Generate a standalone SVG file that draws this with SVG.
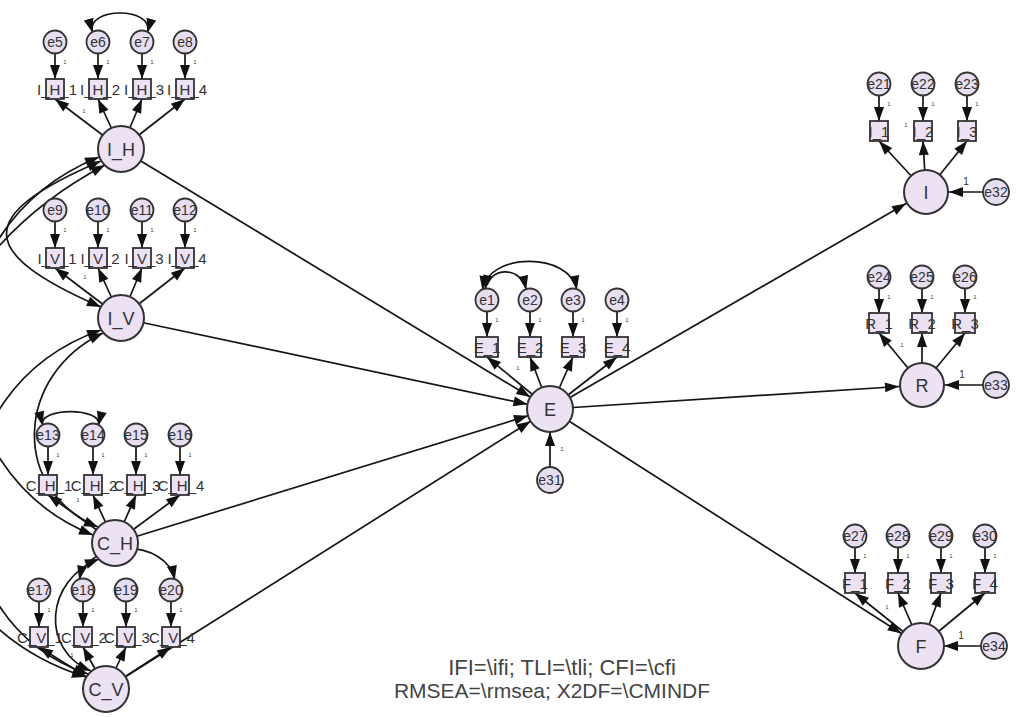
<svg xmlns="http://www.w3.org/2000/svg" width="1017" height="717" viewBox="0 0 1017 717">
<style>
.lat{fill:#ECE2F4;stroke:#333;stroke-width:2}
.err{fill:#E8DEF2;stroke:#333;stroke-width:1.8}
.box{fill:#ECE2F4;stroke:#333;stroke-width:1.8}
.c{fill:none;stroke:#151515;stroke-width:1.7}
.a{marker-end:url(#ap)}
.al{marker-end:url(#al)}
.d{marker-start:url(#ap);marker-end:url(#ap)}
text{font-family:"Liberation Sans",Arial,sans-serif;fill:#333;text-anchor:middle}
.tl{font-size:18px}
.te{font-size:14px}
.tb{font-size:15px}
.t1{font-size:6px;fill:#444}
.tw{font-size:10px}
.tf{font-size:21px;fill:#444}
</style>
<defs>
<marker id="ap" markerUnits="userSpaceOnUse" markerWidth="15" markerHeight="10" refX="14" refY="5" orient="auto-start-reverse" overflow="visible"><path d="M0,0 L14,5 L0,10 z" fill="#111"/></marker>
<marker id="al" markerUnits="userSpaceOnUse" markerWidth="15" markerHeight="10" refX="37" refY="5" orient="auto" overflow="visible"><path d="M0,0 L14,5 L0,10 z" fill="#111"/></marker>
</defs>
<rect width="1017" height="717" fill="#fff"/>
<g id="connectors">
<path class="c al" d="M121,149 L550,409"/>
<path class="c al" d="M121,318 L550,409"/>
<path class="c al" d="M115,543 L550,409"/>
<path class="c al" d="M106,689 L550,409"/>
<path class="c al" d="M550,409 L926,192"/>
<path class="c al" d="M550,409 L922,385"/>
<path class="c al" d="M550,409 L921,646"/>
<path class="c al" d="M550,480 L550,409"/>
<path class="c al" d="M996,192 L926,192"/>
<path class="c al" d="M996,385 L922,385"/>
<path class="c al" d="M994,646 L921,646"/>
<path class="c a" d="M55,42 V79"/>
<path class="c a" d="M98,42 V79"/>
<path class="c a" d="M142,42 V79"/>
<path class="c a" d="M185,42 V79"/>
<path class="c a" d="M55,210 V248"/>
<path class="c a" d="M98,210 V248"/>
<path class="c a" d="M142,210 V248"/>
<path class="c a" d="M185,210 V248"/>
<path class="c a" d="M48,435 V475"/>
<path class="c a" d="M93,435 V475"/>
<path class="c a" d="M136,435 V475"/>
<path class="c a" d="M180,435 V475"/>
<path class="c a" d="M39,590 V627"/>
<path class="c a" d="M83,590 V627"/>
<path class="c a" d="M126,590 V627"/>
<path class="c a" d="M171,590 V627"/>
<path class="c a" d="M487,300 V337"/>
<path class="c a" d="M530,300 V337"/>
<path class="c a" d="M573,300 V337"/>
<path class="c a" d="M617,300 V337"/>
<path class="c a" d="M879,84 V121"/>
<path class="c a" d="M923,84 V121"/>
<path class="c a" d="M967,84 V121"/>
<path class="c a" d="M879,277 V313"/>
<path class="c a" d="M922,277 V313"/>
<path class="c a" d="M965,277 V313"/>
<path class="c a" d="M855,536 V573"/>
<path class="c a" d="M898,536 V573"/>
<path class="c a" d="M941,536 V573"/>
<path class="c a" d="M985,536 V573"/>
<path class="c a" d="M121,149 L55,99"/>
<path class="c a" d="M121,149 L98,99"/>
<path class="c a" d="M121,149 L142,99"/>
<path class="c a" d="M121,149 L185,99"/>
<path class="c a" d="M121,318 L55,268"/>
<path class="c a" d="M121,318 L98,268"/>
<path class="c a" d="M121,318 L142,268"/>
<path class="c a" d="M121,318 L185,268"/>
<path class="c a" d="M115,543 L48,495"/>
<path class="c a" d="M115,543 L93,495"/>
<path class="c a" d="M115,543 L136,495"/>
<path class="c a" d="M115,543 L180,495"/>
<path class="c a" d="M106,689 L39,647"/>
<path class="c a" d="M106,689 L83,647"/>
<path class="c a" d="M106,689 L126,647"/>
<path class="c a" d="M106,689 L171,647"/>
<path class="c a" d="M550,409 L487,357"/>
<path class="c a" d="M550,409 L530,357"/>
<path class="c a" d="M550,409 L573,357"/>
<path class="c a" d="M550,409 L617,357"/>
<path class="c a" d="M926,192 L879,141"/>
<path class="c a" d="M926,192 L923,141"/>
<path class="c a" d="M926,192 L967,141"/>
<path class="c a" d="M922,385 L879,333"/>
<path class="c a" d="M922,385 L922,333"/>
<path class="c a" d="M922,385 L965,333"/>
<path class="c a" d="M921,646 L855,593"/>
<path class="c a" d="M921,646 L898,593"/>
<path class="c a" d="M921,646 L941,593"/>
<path class="c a" d="M921,646 L985,593"/>
<path class="c d" d="M101,161 C-25,215 -25,252 101,307"/>
<path class="c d" d="M99,157 C-80,230 -70,470 93,535"/>
<path class="c d" d="M105,165 C-150,300 -130,610 86,677"/>
<path class="c d" d="M103,333 C15,375 10,490 98,527"/>
<path class="c d" d="M101,330 C-70,390 -70,620 88,674"/>
<path class="c d" d="M99,559 C45,580 40,650 91,671"/>
<path class="c d" d="M92.5,32.5 C85,6.5 155,6.5 147.5,32.5"/>
<path class="c d" d="M42.5,425.5 C38,407 103,407 98.5,425.5"/>
<path class="c d" d="M79.2,579.7 C88,538 166,538 174.8,579.7"/>
<path class="c d" d="M482.4,290 C488,252 570,252 576.8,289.7"/>
<path class="c d" d="M485.1,289.2 C490,266 521,266 526.2,289.7"/>
<text class="t1" x="65" y="64">1</text><text class="t1" x="108" y="64">1</text><text class="t1" x="152" y="64">1</text><text class="t1" x="195" y="64">1</text>
<text class="t1" x="65" y="232">1</text><text class="t1" x="108" y="232">1</text><text class="t1" x="152" y="232">1</text><text class="t1" x="195" y="232">1</text>
<text class="t1" x="58" y="457">1</text><text class="t1" x="103" y="457">1</text><text class="t1" x="146" y="457">1</text><text class="t1" x="190" y="457">1</text>
<text class="t1" x="49" y="612">1</text><text class="t1" x="93" y="612">1</text><text class="t1" x="136" y="612">1</text><text class="t1" x="181" y="612">1</text>
<text class="t1" x="497" y="322">1</text><text class="t1" x="540" y="322">1</text><text class="t1" x="583" y="322">1</text><text class="t1" x="627" y="322">1</text>
<text class="t1" x="889" y="106">1</text><text class="t1" x="933" y="106">1</text><text class="t1" x="977" y="106">1</text>
<text class="t1" x="889" y="299">1</text><text class="t1" x="932" y="299">1</text><text class="t1" x="975" y="299">1</text>
<text class="t1" x="865" y="558">1</text><text class="t1" x="908" y="558">1</text><text class="t1" x="951" y="558">1</text><text class="t1" x="995" y="558">1</text>
<text class="t1" x="84" y="113">1</text>
<text class="t1" x="85" y="279">1</text>
<text class="t1" x="78" y="502">1</text>
<text class="t1" x="72" y="657">1</text>
<text class="t1" x="518" y="370">1</text>
<text class="t1" x="906" y="127">1</text>
<text class="t1" x="902" y="347">1</text>
<text class="t1" x="887" y="609">1</text>
<text class="t1" x="562" y="451">1</text>
<text class="tw" x="966" y="185">1</text>
<text class="tw" x="962" y="378">1</text>
<text class="tw" x="961" y="639">1</text>
</g>
<g id="I_H"><circle class="lat" cx="121" cy="149" r="23"/><text class="tl" x="121" y="155.5">I_H</text></g>
<g id="I_V"><circle class="lat" cx="121" cy="318" r="23"/><text class="tl" x="121" y="324.5">I_V</text></g>
<g id="C_H"><circle class="lat" cx="115" cy="543" r="23"/><text class="tl" x="115" y="549.5">C_H</text></g>
<g id="C_V"><circle class="lat" cx="106" cy="689" r="23"/><text class="tl" x="106" y="695.5">C_V</text></g>
<g id="E"><circle class="lat" cx="550" cy="409" r="23"/><text class="tl" x="550" y="415.5">E</text></g>
<g id="I"><circle class="lat" cx="926" cy="192" r="22"/><text class="tl" x="926" y="198.5">I</text></g>
<g id="R"><circle class="lat" cx="922" cy="385" r="22"/><text class="tl" x="922" y="391.5">R</text></g>
<g id="F"><circle class="lat" cx="921" cy="646" r="23"/><text class="tl" x="921" y="652.5">F</text></g>
<g id="e5"><circle class="err" cx="55" cy="42" r="11.5"/><text class="te" x="55" y="47">e5</text></g>
<g id="e6"><circle class="err" cx="98" cy="42" r="11.5"/><text class="te" x="98" y="47">e6</text></g>
<g id="e7"><circle class="err" cx="142" cy="42" r="11.5"/><text class="te" x="142" y="47">e7</text></g>
<g id="e8"><circle class="err" cx="185" cy="42" r="11.5"/><text class="te" x="185" y="47">e8</text></g>
<g id="e9"><circle class="err" cx="55" cy="210" r="11.5"/><text class="te" x="55" y="215">e9</text></g>
<g id="e10"><circle class="err" cx="98" cy="210" r="11.5"/><text class="te" x="98" y="215">e10</text></g>
<g id="e11"><circle class="err" cx="142" cy="210" r="11.5"/><text class="te" x="142" y="215">e11</text></g>
<g id="e12"><circle class="err" cx="185" cy="210" r="11.5"/><text class="te" x="185" y="215">e12</text></g>
<g id="e13"><circle class="err" cx="48" cy="435" r="11.5"/><text class="te" x="48" y="440">e13</text></g>
<g id="e14"><circle class="err" cx="93" cy="435" r="11.5"/><text class="te" x="93" y="440">e14</text></g>
<g id="e15"><circle class="err" cx="136" cy="435" r="11.5"/><text class="te" x="136" y="440">e15</text></g>
<g id="e16"><circle class="err" cx="180" cy="435" r="11.5"/><text class="te" x="180" y="440">e16</text></g>
<g id="e17"><circle class="err" cx="39" cy="590" r="11.5"/><text class="te" x="39" y="595">e17</text></g>
<g id="e18"><circle class="err" cx="83" cy="590" r="11.5"/><text class="te" x="83" y="595">e18</text></g>
<g id="e19"><circle class="err" cx="126" cy="590" r="11.5"/><text class="te" x="126" y="595">e19</text></g>
<g id="e20"><circle class="err" cx="171" cy="590" r="11.5"/><text class="te" x="171" y="595">e20</text></g>
<g id="e1"><circle class="err" cx="487" cy="300" r="11.5"/><text class="te" x="487" y="305">e1</text></g>
<g id="e2"><circle class="err" cx="530" cy="300" r="11.5"/><text class="te" x="530" y="305">e2</text></g>
<g id="e3"><circle class="err" cx="573" cy="300" r="11.5"/><text class="te" x="573" y="305">e3</text></g>
<g id="e4"><circle class="err" cx="617" cy="300" r="11.5"/><text class="te" x="617" y="305">e4</text></g>
<g id="e21"><circle class="err" cx="879" cy="84" r="11.5"/><text class="te" x="879" y="89">e21</text></g>
<g id="e22"><circle class="err" cx="923" cy="84" r="11.5"/><text class="te" x="923" y="89">e22</text></g>
<g id="e23"><circle class="err" cx="967" cy="84" r="11.5"/><text class="te" x="967" y="89">e23</text></g>
<g id="e24"><circle class="err" cx="879" cy="277" r="11.5"/><text class="te" x="879" y="282">e24</text></g>
<g id="e25"><circle class="err" cx="922" cy="277" r="11.5"/><text class="te" x="922" y="282">e25</text></g>
<g id="e26"><circle class="err" cx="965" cy="277" r="11.5"/><text class="te" x="965" y="282">e26</text></g>
<g id="e27"><circle class="err" cx="855" cy="536" r="11.5"/><text class="te" x="855" y="541">e27</text></g>
<g id="e28"><circle class="err" cx="898" cy="536" r="11.5"/><text class="te" x="898" y="541">e28</text></g>
<g id="e29"><circle class="err" cx="941" cy="536" r="11.5"/><text class="te" x="941" y="541">e29</text></g>
<g id="e30"><circle class="err" cx="985" cy="536" r="11.5"/><text class="te" x="985" y="541">e30</text></g>
<g id="e31"><circle class="err" cx="550" cy="480" r="13"/><text class="te" x="550" y="485">e31</text></g>
<g id="e32"><circle class="err" cx="996" cy="192" r="13"/><text class="te" x="996" y="197">e32</text></g>
<g id="e33"><circle class="err" cx="996" cy="385" r="13"/><text class="te" x="996" y="390">e33</text></g>
<g id="e34"><circle class="err" cx="994" cy="646" r="13"/><text class="te" x="994" y="651">e34</text></g>
<g id="I_H_1"><rect class="box" x="46" y="79" width="18" height="20"/><text class="tb" x="57" y="95">I_H_1</text></g>
<g id="I_H_2"><rect class="box" x="89" y="79" width="18" height="20"/><text class="tb" x="100" y="95">I_H_2</text></g>
<g id="I_H_3"><rect class="box" x="133" y="79" width="18" height="20"/><text class="tb" x="144" y="95">I_H_3</text></g>
<g id="I_H_4"><rect class="box" x="176" y="79" width="18" height="20"/><text class="tb" x="187" y="95">I_H_4</text></g>
<g id="I_V_1"><rect class="box" x="46" y="248" width="18" height="20"/><text class="tb" x="57" y="264">I_V_1</text></g>
<g id="I_V_2"><rect class="box" x="89" y="248" width="18" height="20"/><text class="tb" x="100" y="264">I_V_2</text></g>
<g id="I_V_3"><rect class="box" x="133" y="248" width="18" height="20"/><text class="tb" x="144" y="264">I_V_3</text></g>
<g id="I_V_4"><rect class="box" x="176" y="248" width="18" height="20"/><text class="tb" x="187" y="264">I_V_4</text></g>
<g id="C_H_1"><rect class="box" x="39" y="475" width="18" height="20"/><text class="tb" x="49" y="491">C_H_1</text></g>
<g id="C_H_2"><rect class="box" x="84" y="475" width="18" height="20"/><text class="tb" x="94" y="491">C_H_2</text></g>
<g id="C_H_3"><rect class="box" x="127" y="475" width="18" height="20"/><text class="tb" x="137" y="491">C_H_3</text></g>
<g id="C_H_4"><rect class="box" x="171" y="475" width="18" height="20"/><text class="tb" x="181" y="491">C_H_4</text></g>
<g id="C_V_1"><rect class="box" x="30" y="627" width="18" height="20"/><text class="tb" x="40" y="643">C_V_1</text></g>
<g id="C_V_2"><rect class="box" x="74" y="627" width="18" height="20"/><text class="tb" x="84" y="643">C_V_2</text></g>
<g id="C_V_3"><rect class="box" x="117" y="627" width="18" height="20"/><text class="tb" x="127" y="643">C_V_3</text></g>
<g id="C_V_4"><rect class="box" x="162" y="627" width="18" height="20"/><text class="tb" x="172" y="643">C_V_4</text></g>
<g id="E_1"><rect class="box" x="476" y="337" width="22" height="20"/><text class="tb" x="487" y="353">E_1</text></g>
<g id="E_2"><rect class="box" x="519" y="337" width="22" height="20"/><text class="tb" x="530" y="353">E_2</text></g>
<g id="E_3"><rect class="box" x="562" y="337" width="22" height="20"/><text class="tb" x="573" y="353">E_3</text></g>
<g id="E_4"><rect class="box" x="606" y="337" width="22" height="20"/><text class="tb" x="617" y="353">E_4</text></g>
<g id="I_1"><rect class="box" x="870" y="121" width="18" height="20"/><text class="tb" x="879" y="137">I_1</text></g>
<g id="I_2"><rect class="box" x="914" y="121" width="18" height="20"/><text class="tb" x="923" y="137">I_2</text></g>
<g id="I_3"><rect class="box" x="958" y="121" width="18" height="20"/><text class="tb" x="967" y="137">I_3</text></g>
<g id="R_1"><rect class="box" x="869" y="313" width="20" height="20"/><text class="tb" x="879" y="329">R_1</text></g>
<g id="R_2"><rect class="box" x="912" y="313" width="20" height="20"/><text class="tb" x="922" y="329">R_2</text></g>
<g id="R_3"><rect class="box" x="955" y="313" width="20" height="20"/><text class="tb" x="965" y="329">R_3</text></g>
<g id="F_1"><rect class="box" x="845" y="573" width="20" height="20"/><text class="tb" x="855" y="589">F_1</text></g>
<g id="F_2"><rect class="box" x="888" y="573" width="20" height="20"/><text class="tb" x="898" y="589">F_2</text></g>
<g id="F_3"><rect class="box" x="931" y="573" width="20" height="20"/><text class="tb" x="941" y="589">F_3</text></g>
<g id="F_4"><rect class="box" x="975" y="573" width="20" height="20"/><text class="tb" x="985" y="589">F_4</text></g>
<g id="fit">
<text class="tf" x="562" y="675" style="font-size:22px">IFI=\ifi; TLI=\tli; CFI=\cfi</text>
<text class="tf" x="552" y="698">RMSEA=\rmsea; X2DF=\CMINDF</text>
</g>
</svg>
